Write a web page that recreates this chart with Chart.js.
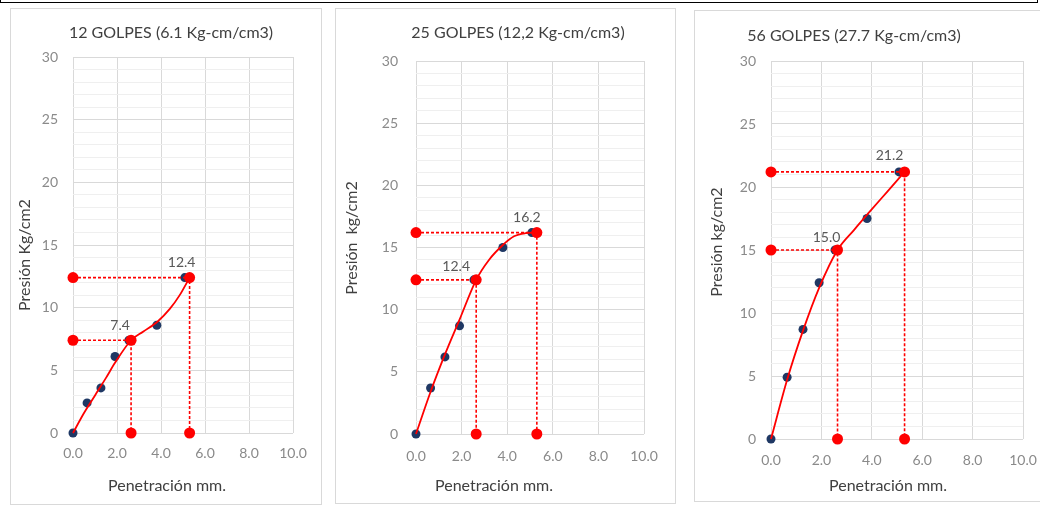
<!DOCTYPE html>
<html>
<head>
<meta charset="utf-8">
<script src="https://cdn.jsdelivr.net/npm/chart.js@4.4.1/dist/chart.umd.min.js"></script>
<style>
  html, body { margin: 0; padding: 0; background: #fff; width: 1040px; height: 508px; overflow: hidden; position: relative; }
  .frame { position: absolute; left: 0; top: -10px; width: 1034px; height: 9px; border-left: 2px solid #000; border-right: 2px solid #000; border-bottom: 4px double #000; }
  .panel { position: absolute; border: 1px solid #d9d9d9; background: #fff; box-sizing: border-box; overflow: hidden; }
  .panel canvas { position: absolute; left: 0; top: 0; }
</style>
</head>
<body>
<div class="frame"></div>
<div class="panel" id="p1"><canvas id="c1"></canvas></div>
<div class="panel" id="p2"><canvas id="c2"></canvas></div>
<div class="panel" id="p3"><canvas id="c3"></canvas></div>
<script>
// Penetration readings (mm) shared by the three compaction levels
const penetration = [0, 0.64, 1.27, 1.91, 2.54, 3.81, 5.08];

// Measured pressure (kg/cm2) for each number of blows
const pressure12 = [0, 2.4, 3.6, 6.1, 7.4, 8.6, 12.4];
const pressure25 = [0, 3.7, 6.2, 8.7, 12.4, 15.0, 16.2];
const pressure56 = [0, 4.9, 8.7, 12.4, 15.0, 17.5, 21.2];

// Smoothed load-penetration curves
const curve12X = [0, 0.5, 1.0, 1.5, 1.91, 2.64, 3.2, 3.85, 4.4, 4.85, 5.3];
const curve12Y = [0, 1.6, 3.0, 4.4, 5.6, 7.4, 8.1, 8.9, 9.9, 11.0, 12.4];
const curve25X = [0, 0.64, 1.27, 1.91, 2.64, 3.2, 3.81, 4.3, 4.8, 5.3];
const curve25Y = [0, 3.4, 6.4, 9.2, 12.4, 14.0, 15.2, 15.9, 16.15, 16.2];
const curve56X = [0, 0.64, 1.27, 1.91, 2.64, 3.3, 3.9, 4.6, 5.3];
const curve56Y = [0, 4.7, 8.6, 12.0, 15.0, 16.6, 18.0, 19.6, 21.2];

const readX = [2.64, 5.3];
const read12 = [7.4, 12.4];
const read25 = [12.4, 16.2];
const read56 = [15.0, 21.2];

// Text
const titles = ['12 GOLPES (6.1 Kg-cm/cm3)', '25 GOLPES (12,2 Kg-cm/cm3)', '56 GOLPES (27.7 Kg-cm/cm3)'];
const yTitles = ['Presión Kg/cm2', 'Presión  kg/cm2', 'Presión kg/cm2'];
const xTitle = 'Penetración mm.';
const xTickLabels = ['0.0', '2.0', '4.0', '6.0', '8.0', '10.0'];
const yTickLabels = ['0', '5', '10', '15', '20', '25', '30'];

const FONT = 'Lato, "Open Sans", sans-serif';
const NAVY = '#1f3864';
const RED = '#ff0000';
const GRID_MAJOR = '#d9d9d9';
const GRID_MINOR = '#efefef';

// Page geometry of each chart box and its plot area
const panels = [
  { canvas: 'c1', div: 'p1', box: [10, 8, 322, 505], plot: [73, 57, 293, 433],
    title: [171, 33], yTitle: [25, 255], xTitlePos: [167, 486], xTickPad: 12, yTickPad: 15,
    labelOffsets: [[-11, -15], [-8, -15]],
    measured: pressure12, curveX: curve12X, curveY: curve12Y, reads: read12 },
  { canvas: 'c2', div: 'p2', box: [335, 8, 676, 504], plot: [416, 61, 644, 434],
    title: [518, 33], yTitle: [352, 238], xTitlePos: [494, 486], xTickPad: 14, yTickPad: 18,
    labelOffsets: [[-20, -13], [-10, -15]],
    measured: pressure25, curveX: curve25X, curveY: curve25Y, reads: read25 },
  { canvas: 'c3', div: 'p3', box: [694, 10, 1060, 502], plot: [771, 61, 1023, 439],
    title: [854, 36], yTitle: [717, 242], xTitlePos: [888, 486], xTickPad: 13, yTickPad: 15,
    labelOffsets: [[-11, -13], [-15, -16]],
    measured: pressure56, curveX: curve56X, curveY: curve56Y, reads: read56 }
];

// Titles, axis titles and value labels placed at fixed spots in each box
const panelText = {
  id: 'panelText',
  afterDraw(chart, args, o) {
    const ctx = chart.ctx;
    const ox = o.origin[0], oy = o.origin[1];
    ctx.save();
    ctx.textAlign = 'center';
    ctx.textBaseline = 'middle';

    ctx.fillStyle = '#404040';
    ctx.font = '16px ' + FONT;
    ctx.fillText(o.title, o.titlePos[0] - ox, o.titlePos[1] - oy);

    ctx.font = '16px ' + FONT;
    ctx.fillText(o.xTitle, o.xTitlePos[0] - ox, o.xTitlePos[1] - oy);

    ctx.save();
    ctx.translate(o.yTitlePos[0] - ox, o.yTitlePos[1] - oy);
    ctx.rotate(-Math.PI / 2);
    ctx.fillText(o.yTitle, 0, 0);
    ctx.restore();

    ctx.fillStyle = '#595959';
    ctx.font = '14px ' + FONT;
    const xs = chart.scales.x, ys = chart.scales.y;
    o.reads.forEach((v, i) => {
      const px = xs.getPixelForValue(readX[i]) + o.labelOffsets[i][0];
      const py = ys.getPixelForValue(v) + o.labelOffsets[i][1];
      ctx.fillText(v.toFixed(1), px, py);
    });
    ctx.restore();
  }
};

function build(p) {
  const [bl, bt, br, bb] = p.box;
  const [pl, pt, pr, pb] = p.plot;
  const div = document.getElementById(p.div);
  div.style.left = bl + 'px';
  div.style.top = bt + 'px';
  div.style.width = (br - bl) + 'px';
  div.style.height = (bb - bt) + 'px';
  const ox = bl + 1, oy = bt + 1;
  const w = br - bl - 2, h = bb - bt - 2;
  const cv = document.getElementById(p.canvas);
  cv.width = w; cv.height = h;
  cv.style.width = w + 'px'; cv.style.height = h + 'px';

  const measured = penetration.map((x, i) => ({ x: x, y: p.measured[i] }));
  const curve = p.curveX.map((x, i) => ({ x: x, y: p.curveY[i] }));
  const guides = p.reads.map((v, i) => ({
    data: [{ x: 0, y: v }, { x: readX[i], y: v }, { x: readX[i], y: 0 }],
    showLine: true,
    clip: false,
    borderColor: RED,
    borderWidth: 1.6,
    borderDash: [3, 2],
    pointRadius: 5.5,
    pointBackgroundColor: RED,
    pointBorderColor: RED,
    pointBorderWidth: 0,
    tension: 0,
    order: 1
  }));

  new Chart(cv, {
    type: 'scatter',
    data: {
      datasets: [
        { data: measured, showLine: false, clip: false, pointRadius: 4.5, pointBackgroundColor: NAVY,
          pointBorderColor: NAVY, pointBorderWidth: 0, order: 3 },
        { data: curve, showLine: true, clip: false, borderColor: RED, borderWidth: 1.8, pointRadius: 0,
          cubicInterpolationMode: 'monotone', order: 2 },
        ...guides
      ]
    },
    options: {
      responsive: false,
      animation: false,
      events: [],
      layout: { padding: { left: 0, top: pt - oy, right: (ox + w) - pr, bottom: 0 } },
      plugins: {
        legend: { display: false },
        tooltip: { enabled: false },
        title: { display: false },
        panelText: {
          origin: [ox, oy], title: titles[panels.indexOf(p)], titlePos: p.title,
          xTitle: xTitle, xTitlePos: p.xTitlePos,
          yTitle: yTitles[panels.indexOf(p)], yTitlePos: p.yTitle,
          reads: p.reads, labelOffsets: p.labelOffsets
        }
      },
      scales: {
        x: {
          type: 'linear', min: 0, max: 10,
          afterFit: s => { s.height = (oy + h) - pb; },
          ticks: { stepSize: 2, padding: p.xTickPad, color: '#8a8a8a', font: { family: FONT, size: 14 },
                   maxRotation: 0, autoSkip: false,
                   callback: (v, i) => xTickLabels[i] },
          grid: { color: GRID_MAJOR, drawTicks: false },
          border: { display: false }
        },
        y: {
          type: 'linear', min: 0, max: 30,
          afterFit: s => { s.width = pl - ox; },
          ticks: { stepSize: 1, padding: p.yTickPad, color: '#8a8a8a', font: { family: FONT, size: 14 },
                   autoSkip: false,
                   callback: v => (v % 5 === 0 ? yTickLabels[v / 5] : '') },
          grid: { color: c => (c.tick && c.tick.value % 5 === 0 ? GRID_MAJOR : GRID_MINOR), drawTicks: false },
          border: { display: false }
        }
      }
    },
    plugins: [panelText]
  });
}

function start() { panels.forEach(build); }
if (document.fonts && document.fonts.load) {
  Promise.all([document.fonts.load('16px Lato'), document.fonts.load('14px Lato')]).then(start, start);
} else {
  start();
}
</script>
</body>
</html>
